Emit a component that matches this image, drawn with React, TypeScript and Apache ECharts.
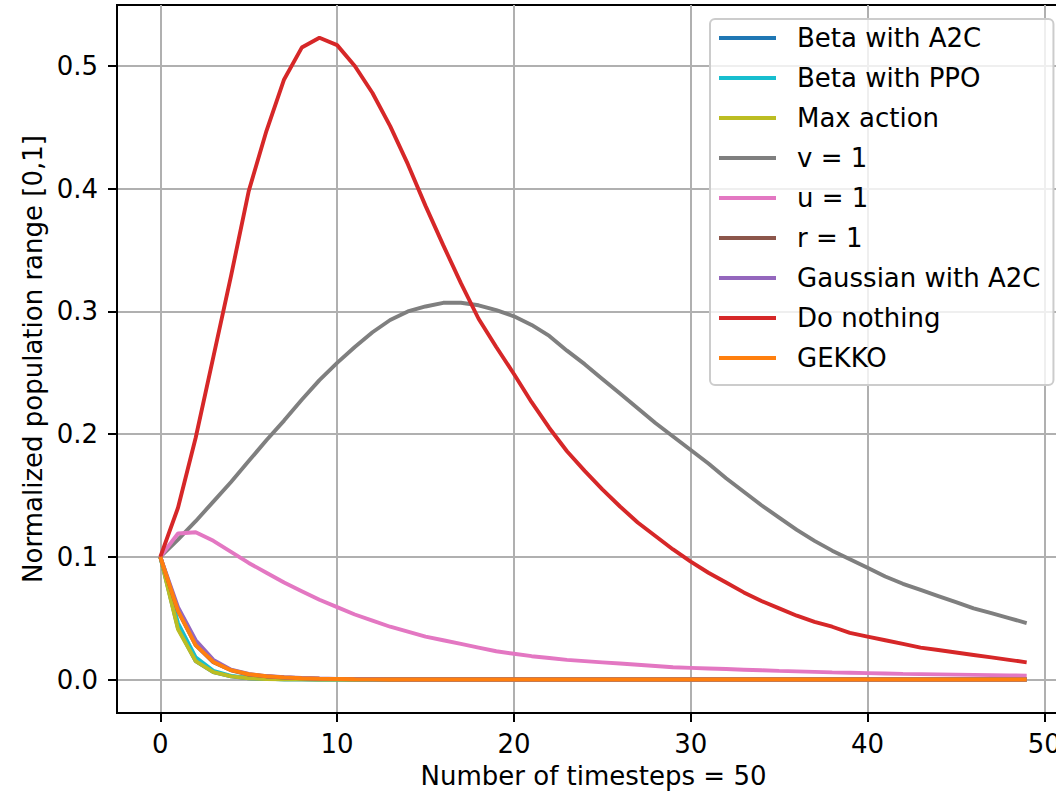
import React, { useEffect, useRef } from "react";
import * as echarts from "echarts";

const timesteps = [0, 1, 2, 3, 4, 5, 6, 7, 8, 9, 10, 11, 12, 13, 14, 15, 16, 17, 18, 19, 20, 21, 22, 23, 24, 25, 26, 27, 28, 29, 30, 31, 32, 33, 34, 35, 36, 37, 38, 39, 40, 41, 42, 43, 44, 45, 46, 47, 48, 49];

const xTicks = [0, 10, 20, 30, 40, 50];
const yTicks = [0, 0.1, 0.2, 0.3, 0.4, 0.5];

const betaA2C = [0.1, 0.042, 0.015, 0.006, 0.0025, 0.001, 0.0005, 0.0002, 0.0001, 0, 0, 0, 0, 0, 0, 0, 0, 0, 0, 0, 0, 0, 0, 0, 0, 0, 0, 0, 0, 0, 0, 0, 0, 0, 0, 0, 0, 0, 0, 0, 0, 0, 0, 0, 0, 0, 0, 0, 0, 0];
const betaPPO = [0.1, 0.046, 0.018, 0.007, 0.003, 0.0012, 0.0005, 0.0002, 0.0001, 0, 0, 0, 0, 0, 0, 0, 0, 0, 0, 0, 0, 0, 0, 0, 0, 0, 0, 0, 0, 0, 0, 0, 0, 0, 0, 0, 0, 0, 0, 0, 0, 0, 0, 0, 0, 0, 0, 0, 0, 0];
const maxAction = [0.1, 0.041, 0.015, 0.006, 0.0025, 0.001, 0.0004, 0.0002, 0.0001, 0, 0, 0, 0, 0, 0, 0, 0, 0, 0, 0, 0, 0, 0, 0, 0, 0, 0, 0, 0, 0, 0, 0, 0, 0, 0, 0, 0, 0, 0, 0, 0, 0, 0, 0, 0, 0, 0, 0, 0, 0];
const vEquals1 = [0.1, 0.114, 0.129, 0.145, 0.161, 0.178, 0.195, 0.211, 0.228, 0.244, 0.258, 0.271, 0.283, 0.293, 0.3, 0.304, 0.307, 0.307, 0.305, 0.301, 0.296, 0.289, 0.28, 0.268, 0.257, 0.245, 0.233, 0.221, 0.209, 0.198, 0.187, 0.176, 0.164, 0.153, 0.142, 0.132, 0.122, 0.113, 0.105, 0.098, 0.091, 0.084, 0.078, 0.073, 0.068, 0.063, 0.058, 0.054, 0.05, 0.046];
const uEquals1 = [0.1, 0.119, 0.12, 0.113, 0.104, 0.095, 0.087, 0.079, 0.072, 0.065, 0.059, 0.053, 0.048, 0.043, 0.039, 0.035, 0.032, 0.029, 0.026, 0.023, 0.021, 0.019, 0.0175, 0.016, 0.015, 0.014, 0.013, 0.012, 0.011, 0.01, 0.0095, 0.009, 0.0085, 0.008, 0.0075, 0.007, 0.0066, 0.0062, 0.0058, 0.0055, 0.0052, 0.0049, 0.0046, 0.0044, 0.0042, 0.004, 0.0038, 0.0036, 0.0034, 0.0032];
const rEquals1 = [0.1, 0.056, 0.028, 0.014, 0.0075, 0.004, 0.0025, 0.0016, 0.001, 0.0006, 0.0004, 0.0002, 0.0001, 0, 0, 0, 0, 0, 0, 0, 0, 0, 0, 0, 0, 0, 0, 0, 0, 0, 0, 0, 0, 0, 0, 0, 0, 0, 0, 0, 0, 0, 0, 0, 0, 0, 0, 0, 0, 0];
const gaussianA2C = [0.1, 0.059, 0.032, 0.016, 0.008, 0.0045, 0.0028, 0.0018, 0.0012, 0.0008, 0.0005, 0.0003, 0.0002, 0.0001, 0, 0, 0, 0, 0, 0, 0, 0, 0, 0, 0, 0, 0, 0, 0, 0, 0, 0, 0, 0, 0, 0, 0, 0, 0, 0, 0, 0, 0, 0, 0, 0, 0, 0, 0, 0];
const doNothing = [0.1, 0.14, 0.197, 0.263, 0.329, 0.398, 0.447, 0.489, 0.515, 0.523, 0.517, 0.5, 0.478, 0.451, 0.42, 0.386, 0.354, 0.323, 0.294, 0.271, 0.249, 0.226, 0.205, 0.186, 0.17, 0.155, 0.141, 0.128, 0.117, 0.106, 0.096, 0.087, 0.079, 0.071, 0.064, 0.058, 0.052, 0.047, 0.043, 0.038, 0.035, 0.032, 0.029, 0.026, 0.024, 0.022, 0.02, 0.018, 0.016, 0.014];
const gekko = [0.1, 0.056, 0.028, 0.0143, 0.0076, 0.0043, 0.0027, 0.0017, 0.001, 0.0006, 0.0004, 0.0002, 0.0001, 0, 0, 0, 0, 0, 0, 0, 0, 0, 0, 0, 0, 0, 0, 0, 0, 0, 0, 0, 0, 0, 0, 0, 0, 0, 0, 0, 0, 0, 0, 0, 0, 0, 0, 0, 0, 0];

const seriesNames = ["Beta with A2C", "Beta with PPO", "Max action", "v = 1", "u = 1", "r = 1", "Gaussian with A2C", "Do nothing", "GEKKO"];
const seriesValues = [betaA2C, betaPPO, maxAction, vEquals1, uEquals1, rEquals1, gaussianA2C, doNothing, gekko];
const seriesColors = ["#1f77b4", "#17becf", "#bcbd22", "#7f7f7f", "#e377c2", "#8c564b", "#9467bd", "#d62728", "#ff7f0e"];

const FONT = "DejaVu Sans";
const LEGEND_ICON = "path://M0 0H57V3.9H0Z";

export default function App() {
  const ref = useRef<HTMLDivElement>(null);
  useEffect(() => {
    const chart = echarts.init(ref.current!, null, { renderer: "svg" });
    chart.setOption({
      animation: false,
      backgroundColor: "#ffffff",
      grid: {
        left: 117,
        top: 5,
        width: 953,
        height: 708,
        show: true,
        borderColor: "#000000",
        borderWidth: 2,
        backgroundColor: "transparent",
      },
      legend: {
        orient: "vertical",
        left: 710,
        top: 19,
        itemWidth: 57,
        itemHeight: 30,
        itemGap: 10,
        symbolKeepAspect: true,
        padding: [4, 13, 12, 9],
        backgroundColor: "rgba(255,255,255,0.8)",
        borderColor: "#cccccc",
        borderWidth: 2,
        borderRadius: 5,
        textStyle: {
          fontFamily: FONT,
          fontSize: 26,
          lineHeight: 30,
          color: "#000000",
          padding: [0, 0, 0, 16],
        },
        data: seriesNames.map((name) => ({ name, icon: LEGEND_ICON })),
      },
      xAxis: {
        type: "value",
        min: -2.45,
        max: 51.45,
        minInterval: 10,
        maxInterval: 10,
        name: "Number of timesteps = 50",
        nameLocation: "middle",
        nameGap: 50,
        nameTextStyle: { fontFamily: FONT, fontSize: 26, color: "#000000" },
        axisLine: { show: true, onZero: false, lineStyle: { color: "#000000", width: 2 } },
        axisTick: { show: true, length: 9, customValues: xTicks, lineStyle: { color: "#000000", width: 2 } },
        axisLabel: {
          fontFamily: FONT,
          fontSize: 26,
          color: "#000000",
          margin: 18,
          customValues: xTicks,
        },
        splitLine: { show: true, lineStyle: { color: "#b0b0b0", width: 2 } },
      },
      yAxis: {
        type: "value",
        min: -0.0273,
        max: 0.5497,
        minInterval: 0.1,
        maxInterval: 0.1,
        name: "Normalized population range [0,1]",
        nameLocation: "middle",
        nameRotate: 90,
        nameGap: 71,
        nameTextStyle: { fontFamily: FONT, fontSize: 26, color: "#000000" },
        axisLine: { show: true, onZero: false, lineStyle: { color: "#000000", width: 2 } },
        axisTick: { show: true, length: 9, customValues: yTicks, lineStyle: { color: "#000000", width: 2 } },
        axisLabel: {
          fontFamily: FONT,
          fontSize: 26,
          color: "#000000",
          margin: 19,
          customValues: yTicks,
          formatter: (v: number) => v.toFixed(1),
        },
        splitLine: { show: true, lineStyle: { color: "#b0b0b0", width: 2 } },
      },
      series: seriesNames.map((name, i) => ({
        name,
        type: "line",
        symbol: "none",
        clip: true,
        color: seriesColors[i],
        lineStyle: { color: seriesColors[i], width: 3.9 },
        data: timesteps.map((t, j) => [t, seriesValues[i][j]]),
      })),
    });
    return () => chart.dispose();
  }, []);
  return (
    <div style={{ position: "fixed", left: 0, top: 0, width: 1056, height: 795, overflow: "hidden", background: "#ffffff" }}>
      <div ref={ref} style={{ width: 1080, height: 795 }} />
    </div>
  );
}
